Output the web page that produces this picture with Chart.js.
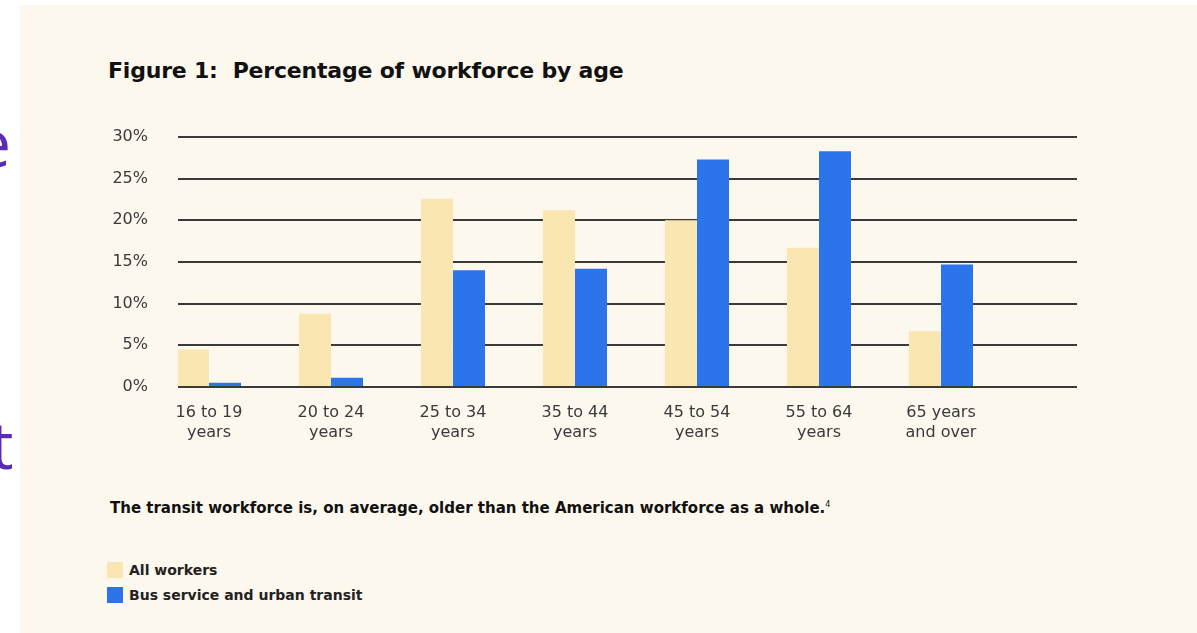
<!DOCTYPE html>
<html>
<head>
<meta charset="utf-8">
<script src="https://cdn.jsdelivr.net/npm/chart.js@4"></script>
<style>
  html, body { margin: 0; padding: 0; background: #ffffff; width: 1197px; height: 633px; overflow: hidden; }
  #panel { position: absolute; left: 20px; top: 5px; width: 1177px; height: 628px; background: #fdf8ee; }
  .side { position: absolute; color: #5b2cb3; font-family: "Open Sans", sans-serif; font-size: 66px; line-height: 1; }
  #title { position: absolute; left: 108px; top: 58px; font-family: "DejaVu Sans", sans-serif; font-weight: bold; font-size: 22px; color: #111; letter-spacing: -0.2px; white-space: nowrap; }
  #caption { position: absolute; left: 110px; top: 499px; font-family: "DejaVu Sans", sans-serif; font-weight: bold; font-size: 15px; color: #111; letter-spacing: 0px; white-space: nowrap; }
  #caption sup { font-size: 8px; font-weight: normal; }
  #legend { position: absolute; left: 107px; top: 562px; font-family: "DejaVu Sans", sans-serif; font-weight: bold; font-size: 14px; color: #222; }
  .item { height: 25px; display: flex; align-items: flex-start; line-height: 16px; }
  .box { width: 16px; height: 16px; margin-right: 6px; }
  #wrap { position: absolute; left: 90px; top: 97px; width: 1010px; height: 363px; }
</style>
</head>
<body>
<div id="panel"></div>
<div class="side" style="left:-26px; top:108px;">e</div>
<div class="side" style="left:-10px; top:410px;">t</div>
<div id="title">Figure 1:&nbsp; Percentage of workforce by age</div>
<div id="wrap"><canvas id="myChart" width="1010" height="363"></canvas></div>
<div id="caption">The transit workforce is, on average, older than the American workforce as a whole.<sup>4</sup></div>
<div id="legend"></div>
<script>
const categories = [
  ["16 to 19", "years"],
  ["20 to 24", "years"],
  ["25 to 34", "years"],
  ["35 to 44", "years"],
  ["45 to 54", "years"],
  ["55 to 64", "years"],
  ["65 years", "and over"]
];
const allWorkers = [4.5, 8.8, 22.6, 21.2, 20.0, 16.7, 6.7];
const busTransit = [0.5, 1.1, 14.0, 14.2, 27.3, 28.3, 14.7];
const yTicks = [0, 5, 10, 15, 20, 25, 30];

const seriesNames = ["All workers", "Bus service and urban transit"];
const seriesColors = ["#f9e6b0", "#2c74e9"];

const tickFont = { family: "DejaVu Sans", size: 16, lineHeight: 1.25 };

const ctx = document.getElementById("myChart").getContext("2d");
new Chart(ctx, {
  type: "bar",
  data: {
    datasets: [
      {
        label: seriesNames[0],
        data: allWorkers.map((v, i) => ({ x: i, y: v })),
        backgroundColor: seriesColors[0],
      },
      {
        label: seriesNames[1],
        data: busTransit.map((v, i) => ({ x: i, y: v })),
        backgroundColor: seriesColors[1],
      },
    ],
  },
  options: {
    responsive: false,
    animation: false,
    categoryPercentage: 0.525,
    barPercentage: 1.0,
    layout: { padding: { left: 0, right: 23, top: 13, bottom: 0 } },
    plugins: { legend: { display: false }, tooltip: { enabled: false } },
    scales: {
      x: {
        type: "linear",
        offset: false,
        min: -0.254,
        max: 7.115,
        grid: { display: false, offset: false },
        border: { display: false },
        afterFit: (scale) => { scale.height = 73; },
        afterBuildTicks: (scale) => { scale.ticks = categories.map((c, i) => ({ value: i })); },
        ticks: {
          autoSkip: false,
          maxRotation: 0,
          padding: 8,
          color: "#3a3a3a",
          font: tickFont,
          callback: (value) => categories[value] || "",
        },
      },
      y: {
        min: 0,
        max: 30,
        afterFit: (scale) => { scale.width = 88; },
        afterBuildTicks: (scale) => { scale.ticks = yTicks.map((v) => ({ value: v })); },
        grid: { color: "#3a3a3a", lineWidth: 2, drawTicks: false },
        border: { display: false },
        ticks: {
          padding: 30,
          color: "#3a3a3a",
          font: tickFont,
          callback: (value) => value + "%",
        },
      },
    },
  },
});

const legend = document.getElementById("legend");
seriesNames.forEach((name, i) => {
  const item = document.createElement("div");
  item.className = "item";
  item.innerHTML = '<div class="box" style="background:' + seriesColors[i] + '"></div><span>' + name + "</span>";
  legend.appendChild(item);
});
</script>
</body>
</html>
